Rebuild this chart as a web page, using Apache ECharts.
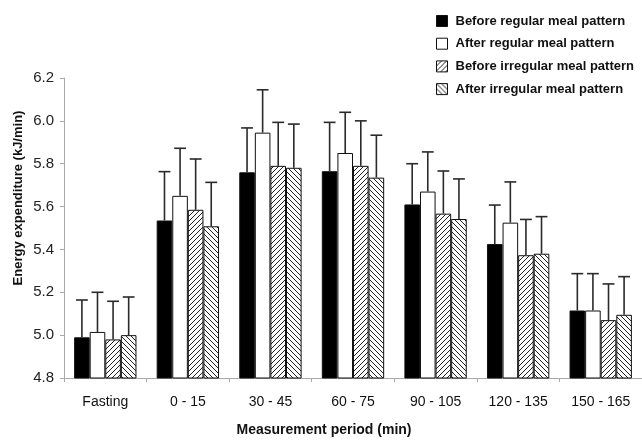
<!DOCTYPE html>
<html><head><meta charset="utf-8">
<script src="https://cdn.jsdelivr.net/npm/echarts@6/dist/echarts.min.js"></script>
<style>html,body{margin:0;padding:0;background:#fff}#c{width:642px;height:442px}</style>
</head><body><div id="c"></div>
<script>
const categories = ['Fasting', '0 - 15', '30 - 45', '60 - 75', '90 - 105', '120 - 135', '150 - 165'];
const seriesNames = ['Before regular meal pattern', 'After regular meal pattern', 'Before irregular meal pattern', 'After irregular meal pattern'];
const beforeRegular = [4.99, 5.535, 5.76, 5.765, 5.61, 5.425, 5.115];
const afterRegular = [5.015, 5.65, 5.945, 5.85, 5.67, 5.525, 5.115];
const beforeIrregular = [4.98, 5.585, 5.79, 5.79, 5.567, 5.373, 5.07];
const afterIrregular = [5.0, 5.508, 5.781, 5.735, 5.542, 5.38, 5.095];
const beforeRegularErr = [5.164, 5.763, 5.967, 5.993, 5.80, 5.607, 5.287];
const afterRegularErr = [5.20, 5.872, 6.145, 6.04, 5.855, 5.715, 5.287];
const beforeIrregularErr = [5.158, 5.822, 5.993, 6.0, 5.766, 5.54, 5.239];
const afterIrregularErr = [5.178, 5.713, 5.985, 5.933, 5.729, 5.553, 5.273];
const yTicks = ['4.8', '5.0', '5.2', '5.4', '5.6', '5.8', '6.0', '6.2'];

const values = [beforeRegular, afterRegular, beforeIrregular, afterIrregular];
const errs = [beforeRegularErr, afterRegularErr, beforeIrregularErr, afterIrregularErr];

function hatch(dir) {
  const s = 5;
  const c = document.createElement('canvas');
  c.width = s; c.height = s;
  const g = c.getContext('2d');
  g.fillStyle = '#fff'; g.fillRect(0, 0, s, s);
  g.strokeStyle = '#222'; g.lineWidth = 1;
  g.beginPath();
  if (dir > 0) {
    g.moveTo(-1, s + 1); g.lineTo(s + 1, -1);
    g.moveTo(-1, 1); g.lineTo(1, -1);
    g.moveTo(s - 1, s + 1); g.lineTo(s + 1, s - 1);
  } else {
    g.moveTo(-1, -1); g.lineTo(s + 1, s + 1);
    g.moveTo(s - 1, -1); g.lineTo(s + 1, 1);
    g.moveTo(-1, s - 1); g.lineTo(1, s + 1);
  }
  g.stroke();
  return { image: c, repeat: 'repeat' };
}
const fills = ['#000', '#fff', hatch(1), hatch(-1)];
const CAT_GAP = 0.245;

const barSeries = values.map((v, i) => ({
  name: seriesNames[i], type: 'bar', data: v,
  barGap: '0%', barCategoryGap: (CAT_GAP * 100) + '%',
  itemStyle: { color: fills[i], borderColor: '#111', borderWidth: 1 },
  z: 2
}));

const errData = [];
values.forEach((v, si) => v.forEach((val, ci) => errData.push([ci, val, errs[si][ci], si])));

const errSeries = {
  type: 'custom', data: errData, z: 3, silent: true,
  encode: { x: 0, y: [1, 2] },
  renderItem: function (params, api) {
    const ci = api.value(0), si = api.value(3);
    const base = api.coord([ci, api.value(1)]);
    const top = api.coord([ci, api.value(2)]);
    const catW = api.size([1, 0])[0];
    const bw = catW * (1 - CAT_GAP) / 4;
    const x = base[0] + (si - 1.5) * bw;
    const half = bw * 0.38;
    const st = { stroke: '#2a2a2a', lineWidth: 1.6 };
    return { type: 'group', children: [
      { type: 'line', shape: { x1: x, y1: base[1], x2: x, y2: top[1] }, style: st },
      { type: 'line', shape: { x1: x - half, y1: top[1], x2: x + half, y2: top[1] }, style: st }
    ]};
  }
};

const chart = echarts.init(document.getElementById('c'), null, { renderer: 'canvas' });
chart.setOption({
  animation: false,
  backgroundColor: '#fff',
  grid: { left: 64, right: -4, top: 78, bottom: 64 },
  legend: {
    data: seriesNames.map(n => ({ name: n, icon: 'rect' })), orient: 'vertical', left: 436, top: 14, padding: 0,
    itemWidth: 11, itemHeight: 11, itemGap: 8.7,
    textStyle: { fontFamily: 'Liberation Sans, Arial, sans-serif', fontWeight: 'bold', fontSize: 13, color: '#111', lineHeight: 14, padding: [0, 0, 0, 3] },
    itemStyle: { borderColor: '#111', borderWidth: 1 }
  },
  title: {
    text: 'Measurement period (min)', left: 324, top: 423, textAlign: 'center', padding: 0,
    textStyle: { fontFamily: 'Liberation Sans, Arial, sans-serif', fontWeight: 'bold', fontSize: 14, color: '#111' }
  },
  graphic: [{
    type: 'text', x: 18, y: 198, rotation: Math.PI / 2,
    style: { text: 'Energy expenditure (kJ/min)', font: 'bold 13px "Liberation Sans", Arial, sans-serif', fill: '#111', textAlign: 'center', textVerticalAlign: 'middle' }
  }],
  xAxis: {
    type: 'category', data: categories,
    axisLine: { lineStyle: { color: '#aaa' } },
    axisTick: { show: true, length: 4, lineStyle: { color: '#aaa' } },
    axisLabel: { fontFamily: 'Liberation Sans, Arial, sans-serif', fontSize: 14, color: '#111', margin: 17 }
  },
  yAxis: {
    type: 'value', min: 4.8, max: 6.2, interval: 0.2,
    splitLine: { show: false },
    axisLine: { show: true, lineStyle: { color: '#aaa' } },
    axisTick: { show: true, length: 4, lineStyle: { color: '#aaa' } },
    axisLabel: { fontFamily: 'Liberation Sans, Arial, sans-serif', fontSize: 15, color: '#222', margin: 10,
      formatter: function (v) { const idx = Math.round((v - 4.8) / 0.2); return yTicks[idx] || ''; } }
  },
  series: barSeries.concat([errSeries])
});
</script></body></html>
